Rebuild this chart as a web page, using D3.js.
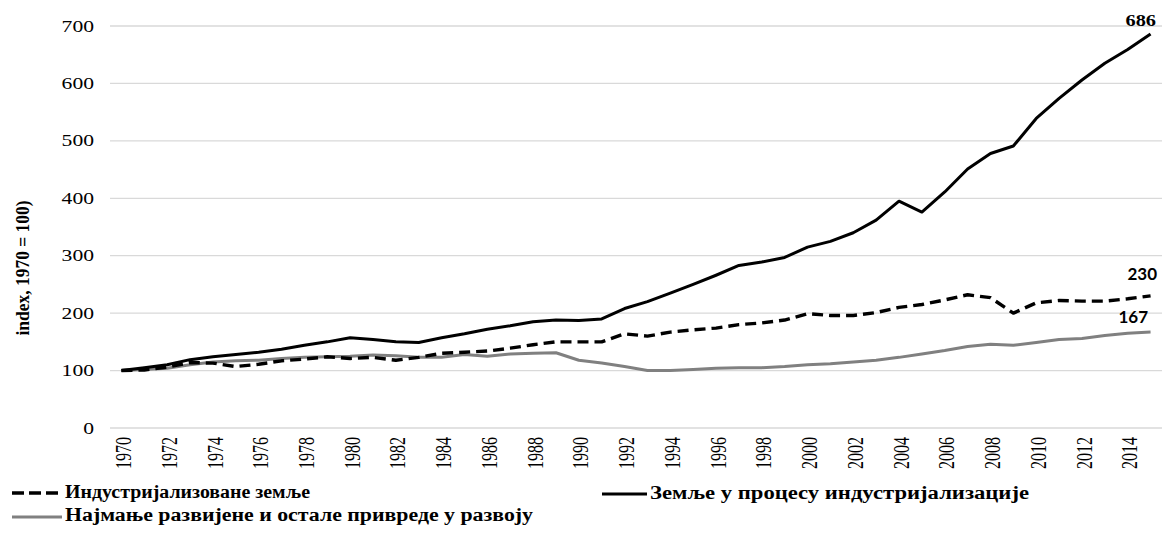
<!DOCTYPE html>
<html>
<head>
<meta charset="utf-8">
<script src="https://cdn.jsdelivr.net/npm/d3@7"></script>
<style>
   body { margin: 0; background: #ffffff; }
   svg { display: block; }
</style>
</head>
<body>
<script>
//DATA
var years = d3.range(1970, 2016);
var tickYears = d3.range(1970, 2015, 2);
var yTicks = [0, 100, 200, 300, 400, 500, 600, 700];

var industrialized = [100, 101, 106, 114, 113, 107, 111, 117, 120, 124, 121, 123, 118, 123, 130, 132, 134, 139, 145, 150,
   150, 150, 164, 160, 167, 171, 174, 180, 183, 188, 199, 196, 196, 201, 210, 215, 223, 232, 227, 200,
   218, 222, 221, 221, 225, 230];
var industrializing = [100, 105, 110, 119, 124, 128, 132, 137, 144, 150, 157, 154, 150, 149, 157, 164, 172, 178, 185, 188,
   187, 190, 208, 220, 235, 250, 266, 283, 289, 297, 315, 325, 340, 362, 395, 376, 411, 451, 478, 491,
   539, 574, 606, 635, 659, 686];
var leastDeveloped = [100, 102, 104, 110, 115, 117, 118, 121, 123, 124, 125, 127, 126, 123, 123, 128, 125, 129, 130, 131,
   118, 113, 107, 100, 100, 102, 104, 105, 105, 107, 110, 112, 115, 118, 123, 129, 135, 142, 146, 144,
   149, 154, 156, 161, 165, 167];

var seriesNames = ["Индустријализоване земље", "Земље у процесу индустријализације", "Најмање развијене и остале привреде у развоју"];
var endLabels = ["230", "686", "167"];
var yTitle = "index, 1970 = 100)";

//SVG STUFF:
var width = 1162;
var height = 534;
var serif = "'Liberation Serif', 'Times New Roman', 'DejaVu Serif', serif";

var svg = d3.select("body").append("svg")
   .attr("width", width).attr("height", height)
   .attr("viewBox", "0,0," + width + "," + height);

var x = d3.scalePoint().domain(years).range([110, 1162]).padding(0.5);
var y = d3.scaleLinear().domain([0, 700]).range([428, 26]);

//GRIDLINES
svg.selectAll("line.grid").data(yTicks).enter().append("line")
   .attr("class", "grid")
   .attr("x1", 110)
   .attr("x2", width)
   .attr("y1", d => y(d))
   .attr("y2", d => y(d))
   .attr("stroke", "#d9d9d9")
   .attr("stroke-width", 1.3);

//Y TICK LABELS
svg.selectAll("text.ytick").data(yTicks).enter().append("text")
   .attr("class", "ytick")
   .attr("transform", d => "translate(94," + y(d) + ") scale(1.27,1)")
   .attr("dy", "0.33em")
   .attr("text-anchor", "end")
   .style("font-family", serif)
   .attr("font-size", "17px")
   .attr("fill", "#000")
   .text(d => d);

//X TICK LABELS
svg.selectAll("text.xtick").data(tickYears).enter().append("text")
   .attr("class", "xtick")
   .attr("transform", d => "translate(" + (x(d) + 2) + ",437) scale(1.4,1) rotate(-90)")
   .attr("dy", "0.34em")
   .attr("text-anchor", "end")
   .style("font-family", serif)
   .attr("font-size", "16px")
   .attr("fill", "#000")
   .text(d => d);

//Y TITLE
svg.append("text")
   .attr("transform", "translate(22,268) scale(1.2,1) rotate(-90)")
   .attr("dy", "0.35em")
   .attr("text-anchor", "middle")
   .style("font-family", serif)
   .attr("font-weight", "bold")
   .attr("font-size", "16px")
   .attr("textLength", 135)
   .attr("lengthAdjust", "spacingAndGlyphs")
   .attr("fill", "#000")
   .text(yTitle);

//LINES
var line = d3.line()
   .x((d, i) => x(years[i]))
   .y(d => y(d));

var series = [
   {data: leastDeveloped, colour: "#808080", width: 3, dash: null},
   {data: industrialized, colour: "#000000", width: 3.4, dash: "11,6"},
   {data: industrializing, colour: "#000000", width: 3, dash: null}
];
series.forEach(s => {
   svg.append("path")
      .attr("d", line(s.data))
      .attr("fill", "none")
      .attr("stroke", s.colour)
      .attr("stroke-width", s.width)
      .attr("stroke-dasharray", s.dash)
      .attr("stroke-linejoin", "round");
});

//END LABELS
var last = years.length - 1;
svg.append("text")
   .attr("transform", "translate(1156," + (y(industrializing[last]) - 8) + ") scale(1.27,1)")
   .attr("text-anchor", "end")
   .style("font-family", serif)
   .attr("font-weight", "bold")
   .attr("font-size", "16px")
   .attr("fill", "#000")
   .text(endLabels[1]);
svg.append("text")
   .attr("x", 1157)
   .attr("y", y(industrialized[last]) - 16)
   .attr("text-anchor", "end")
   .style("font-family", "Lato, 'DejaVu Sans', sans-serif")
   .attr("font-weight", "bold")
   .attr("font-size", "17px")
   .attr("fill", "#000")
   .text(endLabels[0]);
svg.append("text")
   .attr("x", 1148)
   .attr("y", y(leastDeveloped[last]) - 9)
   .attr("text-anchor", "end")
   .style("font-family", "Lato, 'DejaVu Sans', sans-serif")
   .attr("font-weight", "bold")
   .attr("font-size", "17px")
   .attr("fill", "#000")
   .text(endLabels[2]);

//LEGEND
var legend = [
   {name: seriesNames[0], x1: 12, x2: 62, ly: 493, ty: 498, tl: 245, colour: "#000", dash: "12,5", w: 3.4},
   {name: seriesNames[1], x1: 602, x2: 647, ly: 494, ty: 499, tl: 379, colour: "#000", dash: null, w: 3},
   {name: seriesNames[2], x1: 12, x2: 62, ly: 517, ty: 521, tl: 468, colour: "#808080", dash: null, w: 3}
];
svg.selectAll("line.legend").data(legend).enter().append("line")
   .attr("class", "legend")
   .attr("x1", d => d.x1)
   .attr("x2", d => d.x2)
   .attr("y1", d => d.ly)
   .attr("y2", d => d.ly)
   .attr("stroke", d => d.colour)
   .attr("stroke-width", d => d.w)
   .attr("stroke-dasharray", d => d.dash);
svg.selectAll("text.legend").data(legend).enter().append("text")
   .attr("class", "legend")
   .attr("x", d => d.x2 + 3)
   .attr("y", d => d.ty)
   .style("font-family", serif)
   .attr("font-weight", "bold")
   .attr("font-size", "18px")
   .attr("textLength", d => d.tl)
   .attr("lengthAdjust", "spacingAndGlyphs")
   .attr("fill", "#000")
   .text(d => d.name);
</script>
</body>
</html>
